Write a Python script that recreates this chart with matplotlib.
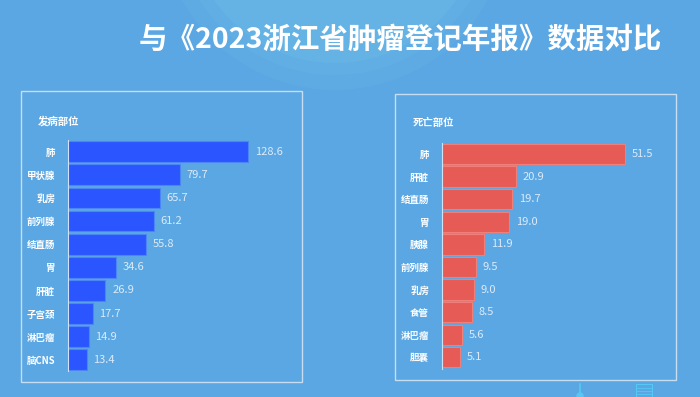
import matplotlib.pyplot as plt
from matplotlib.patches import Rectangle, Circle

plt.rcParams['font.family'] = ['Noto Sans CJK SC', 'DejaVu Sans']

# 发病部位
inc_sites = ['肺', '甲状腺', '乳房', '前列腺', '结直肠', '胃', '肝脏', '子宫颈', '淋巴瘤', '脑CNS']
inc_values = [128.6, 79.7, 65.7, 61.2, 55.8, 34.6, 26.9, 17.7, 14.9, 13.4]

# 死亡部位
death_sites = ['肺', '肝脏', '结直肠', '胃', '胰腺', '前列腺', '乳房', '食管', '淋巴瘤', '胆囊']
death_values = [51.5, 20.9, 19.7, 19.0, 11.9, 9.5, 9.0, 8.5, 5.6, 5.1]

W, H = 700, 397
bg = '#5BA7E3'

fig = plt.figure(figsize=(7, 3.97), dpi=100, facecolor=bg)

# background layer in pixel coords
bga = fig.add_axes([0, 0, 1, 1])
bga.set_xlim(0, W)
bga.set_ylim(H, 0)
bga.axis('off')
bga.set_facecolor(bg)
# soft glow at the top
for r, a in [(175, 0.06), (160, 0.08), (148, 0.10)]:
    bga.add_patch(Circle((335, -85), r, color='#8FE0F0', alpha=a, lw=0))
# panel frames
bga.add_patch(Rectangle((21, 91), 281, 291, fill=False, ec='#C9DDF0', lw=1))
bga.add_patch(Rectangle((395, 94), 281, 286, fill=False, ec='#C9DDF0', lw=1))
# small decorations bottom right
bga.plot([580, 580], [384, 397], color='#56C8F5', lw=1.2)
bga.add_patch(Circle((580, 396), 3, color='#56C8F5'))
bga.add_patch(Rectangle((636, 384), 16, 13, fill=False, ec='#56C8F5', lw=0.8))
for yy in [388, 391, 394]:
    bga.plot([637, 651], [yy, yy], color='#56C8F5', lw=0.6)

fig.text(400 / W, 1 - 40 / H, '与《2023浙江省肿瘤登记年报》数据对比', color='white',
         fontsize=20.5, fontweight='heavy', ha='center', va='center')


def panel(rect_px, sites, values, xmax, color, edge, title, title_xy):
    x0, y0, x1, y1 = rect_px
    ax = fig.add_axes([x0 / W, 1 - y1 / H, (x1 - x0) / W, (y1 - y0) / H])
    ax.set_facecolor('none')
    pos = list(range(len(sites)))
    ax.barh(pos, values, height=0.9, color=color, edgecolor=edge, linewidth=0.8)
    ax.set_ylim(len(sites) - 0.5, -0.5)
    ax.set_xlim(0, xmax)
    ax.set_yticks(pos)
    ax.set_yticklabels(sites, color='white', fontsize=6.8, fontweight='bold')
    ax.tick_params(axis='y', length=0, pad=9)
    ax.set_xticks([])
    for s in ['top', 'right', 'bottom']:
        ax.spines[s].set_visible(False)
    ax.spines['left'].set_color('#CFE2F4')
    ax.spines['left'].set_linewidth(0.8)
    for p, v in zip(pos, values):
        ax.text(v + xmax * 0.03, p, f'{v:.1f}', color='#DCEAF8', fontsize=8,
                va='center', ha='left')
    fig.text(title_xy[0] / W, 1 - title_xy[1] / H, title, color='white',
             fontsize=7.5, fontweight='bold', ha='left', va='center')
    return ax


panel((67.7, 140.2, 295, 371.3), inc_sites, inc_values, 161.9,
      '#2B56FF', '#4C86F2', '发病部位', (38, 121.7))
panel((441.7, 142.7, 670, 368.6), death_sites, death_values, 64.1,
      '#E65B55', '#EE7F7A', '死亡部位', (413, 123.3))

fig.savefig('out.png', dpi=100, facecolor=bg)
